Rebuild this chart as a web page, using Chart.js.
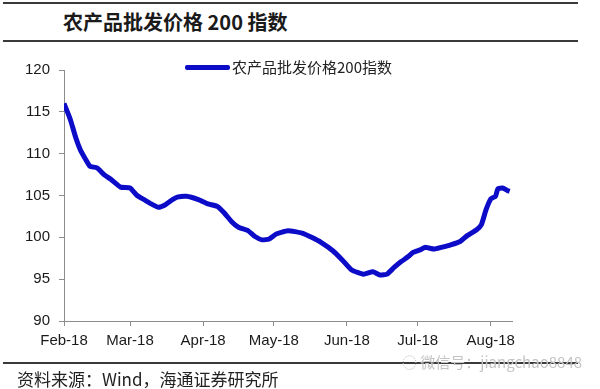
<!DOCTYPE html>
<html>
<head>
<meta charset="utf-8">
<script src="https://cdn.jsdelivr.net/npm/chart.js@4.4.0/dist/chart.umd.min.js"></script>
<style>
  body { margin: 0; background: #fff; }
  #wrap { position: relative; width: 600px; height: 389px; overflow: hidden; }
  .rule { position: absolute; left: 3px; width: 575px; height: 2px; background: #3a3a3a; }
  #title { position: absolute; left: 63px; top: 8px; font: bold 20px "Noto Sans CJK SC", sans-serif; color: #1a1a1a; line-height: 28px; white-space: nowrap; }
  #legend { position: absolute; left: 185px; top: 57px; font: 15px "Noto Sans CJK SC", sans-serif; color: #222; line-height: 20px; white-space: nowrap; }
  #legend span.swatch { display: inline-block; width: 45px; height: 5px; border-radius: 2px; background: #0b0bc8; vertical-align: middle; margin-right: 2px; position: relative; top: -1px; }
  #source { position: absolute; left: 17px; top: 368px; font: 17px "Noto Sans CJK SC", sans-serif; color: #222; line-height: 22px; white-space: nowrap; }
  #mark { position: absolute; left: 402px; top: 352px; font: 15px "Noto Sans CJK SC", sans-serif; color: #c4c4c4; line-height: 20px; white-space: nowrap; }
  canvas { position: absolute; left: 0; top: 0; }
</style>
</head>
<body>
<div id="wrap">
  <div class="rule" style="top:2px"></div>
  <div id="title">农产品批发价格 200 指数</div>
  <div class="rule" style="top:40px"></div>
  <div style="position:absolute;left:0;top:0;width:600px;height:389px"><canvas id="myChart"></canvas></div>
  <div id="legend"><span class="swatch"></span>农产品批发价格200指数</div>
  <div class="rule" style="top:362px"></div>
  <div id="source">资料来源：Wind，海通证券研究所</div>
  <div id="mark">◌ 微信号：jiangchao8848</div>
</div>
<script>
// days counted from 2018-02-01
var dayValues = [0,2,3,5,7,9,11,14,17,20,24,28,31,34,37,40,43,46,48,52,57,61,65,68,71,74,78,81,84,87,90,95,101,105,109,114,118,122,127,131,134,137,140,143,146,148,151,153,157,160,164,168,171,175,177,179,181,183,184,186,188,189];
var indexValues = [116.0,114.6,113.8,111.9,110.4,109.4,108.5,108.3,107.5,106.9,106.0,105.9,105.0,104.5,104.0,103.6,103.9,104.5,104.8,104.9,104.5,104.0,103.7,102.9,101.9,101.2,100.8,100.1,99.7,99.8,100.4,100.8,100.5,100.0,99.4,98.4,97.3,96.1,95.6,95.9,95.5,95.6,96.4,97.1,97.7,98.2,98.5,98.8,98.6,98.8,99.1,99.5,100.2,100.9,101.5,103.3,104.6,104.9,105.8,105.9,105.6,105.5];
var monthDays = [0,28,59,89,120,150,181];
var monthLabels = ["Feb-18","Mar-18","Apr-18","May-18","Jun-18","Jul-18","Aug-18"];
var yTicks = [90,95,100,105,110,115,120];

var points = dayValues.map(function (d, i) { return {x: d, y: indexValues[i]}; });

new Chart("myChart", {
  type: "line",
  data: {
    datasets: [{
      label: "农产品批发价格200指数",
      data: points,
      borderColor: "#0b0bc8",
      borderWidth: 5,
      pointRadius: 0,
      tension: 0.15,
      fill: false
    }]
  },
  options: {
    responsive: true,
    maintainAspectRatio: false,
    animation: false,
    layout: {padding: {left: 0, right: 88, top: 70, bottom: 0}},
    plugins: {legend: {display: false}, tooltip: {enabled: false}},
    scales: {
      x: {
        type: "linear",
        min: 0,
        max: 190,
        afterBuildTicks: function (scale) {
          scale.ticks = monthDays.map(function (v) { return {value: v}; });
        },
        afterFit: function (scale) { scale.height = 68; },
        grid: {drawOnChartArea: false, drawTicks: true, tickLength: 5, color: "#8c8c8c"},
        border: {display: true, color: "#8c8c8c", width: 1},
        ticks: {
          autoSkip: false,
          maxRotation: 0,
          padding: 6,
          color: "#1a1a1a",
          font: {family: "Liberation Sans", size: 15},
          callback: function (value) { return monthLabels[monthDays.indexOf(value)]; }
        }
      },
      y: {
        min: 90,
        max: 120,
        afterBuildTicks: function (scale) {
          scale.ticks = yTicks.map(function (v) { return {value: v}; });
        },
        afterFit: function (scale) { scale.width = 64; },
        grid: {drawOnChartArea: false, drawTicks: true, tickLength: 5, color: "#8c8c8c"},
        border: {display: true, color: "#8c8c8c", width: 1},
        ticks: {
          padding: 9,
          color: "#1a1a1a",
          font: {family: "Liberation Sans", size: 15}
        }
      }
    }
  }
});
</script>
</body>
</html>
